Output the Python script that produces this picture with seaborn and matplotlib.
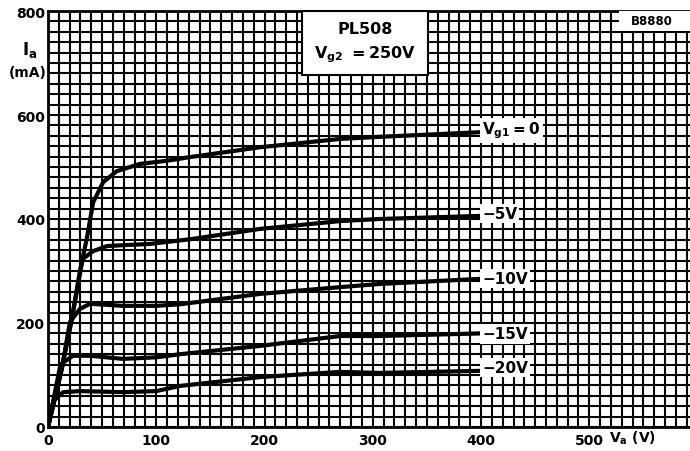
import numpy as np
import pandas as pd
import seaborn as sns
import matplotlib.pyplot as plt
from matplotlib.patches import Rectangle
from matplotlib.ticker import MultipleLocator

# Kennlinien PL508, Werte (Va in V, Ia in mA)
va_0 = [0, 12.6, 22, 29.5, 35.7, 41.7, 51, 63.5, 85, 110, 131, 196, 270, 306, 400]
ia_0 = [0, 111, 208, 300, 361, 432, 471, 492, 506, 512, 519, 538, 554, 558, 567]

va_5 = [0, 12.6, 22, 32, 41.5, 54.5, 73, 94, 131, 196, 270, 306, 400]
ia_5 = [0, 111, 208, 323, 338, 348, 350, 352, 361, 381, 396, 400, 406]

va_10 = [0, 12.6, 20.3, 29.5, 38.8, 69, 100, 122, 196, 270, 306, 400]
ia_10 = [0, 111, 202, 227, 237, 233, 233, 236, 256, 269, 275, 285]

va_15 = [0, 11.5, 23, 38.8, 69, 100, 122, 196, 270, 306, 400]
ia_15 = [0, 120, 137, 137, 131, 134, 140, 156, 175, 175, 180]

va_20 = [0, 5, 14, 29.5, 69, 100, 122, 196, 270, 306, 400]
ia_20 = [0, 50, 67, 69, 67, 69, 79, 96, 106, 104, 108]

kurven = ['0', '-5', '-10', '-15', '-20']
beschriftung = [r'$\mathbf{V_{g1}=0}$', '−5V', '−10V', '−15V', '−20V']
label_y = [571, 410, 285, 179, 115]

x_ticks = [0, 100, 200, 300, 400, 500]
y_ticks = [0, 200, 400, 600, 800]

# DataFrame fuer seaborn
df = pd.concat([
    pd.DataFrame({'Va': va_0, 'Ia': ia_0, 'Vg1': '0'}),
    pd.DataFrame({'Va': va_5, 'Ia': ia_5, 'Vg1': '-5'}),
    pd.DataFrame({'Va': va_10, 'Ia': ia_10, 'Vg1': '-10'}),
    pd.DataFrame({'Va': va_15, 'Ia': ia_15, 'Vg1': '-15'}),
    pd.DataFrame({'Va': va_20, 'Ia': ia_20, 'Vg1': '-20'}),
])

sns.set_style('white')
plt.rcParams['font.family'] = ['DejaVu Sans']
plt.rcParams['font.weight'] = 'bold'
plt.rcParams['text.color'] = 'black'
plt.rcParams['xtick.color'] = 'black'
plt.rcParams['ytick.color'] = 'black'

fig = plt.figure(figsize=(6.9, 4.52), dpi=100)
ax = fig.add_axes([48 / 690, 24 / 452, 642 / 690, 416 / 452])

sns.lineplot(data=df, x='Va', y='Ia', hue='Vg1', hue_order=kurven,
             palette=['black'] * 5, sort=False, estimator=None,
             linewidth=3.0, legend=False, ax=ax, zorder=5)

ax.set_xlim(0, 593)
ax.set_ylim(0, 800)
ax.set_xticks(x_ticks)
ax.set_yticks(y_ticks)
ax.xaxis.set_minor_locator(MultipleLocator(10))
ax.yaxis.set_minor_locator(MultipleLocator(20))
ax.grid(which='both', color='black', linewidth=1.5)
ax.set_axisbelow(True)
ax.tick_params(which='both', length=0)
ax.tick_params(axis='x', pad=4, labelsize=10)
ax.tick_params(axis='y', pad=2, labelsize=10)
for lab in ax.get_xticklabels() + ax.get_yticklabels():
    lab.set_fontweight('bold')
ax.set_xlabel('')
ax.set_ylabel('')
for s in ['left', 'bottom', 'top']:
    ax.spines[s].set_color('black')
    ax.spines[s].set_linewidth(2)
ax.spines['right'].set_visible(False)

# Beschriftung der Kurven
for txt, y in zip(beschriftung, label_y):
    ax.text(401, y, txt, fontsize=11, fontweight='bold', va='center', ha='left',
            zorder=6, bbox=dict(facecolor='white', edgecolor='none', pad=1.5))

# Kasten PL508
ax.add_patch(Rectangle((235, 677), 116, 123, facecolor='white', edgecolor='black',
                       linewidth=1.5, zorder=6, clip_on=False))
ax.text(293, 767, 'PL508', fontsize=11.5, fontweight='bold', ha='center', va='center', zorder=7)
ax.text(293, 718, r'$\mathbf{V_{g2}}$ $\mathbf{=250V}$', fontsize=11.5, ha='center', va='center', zorder=7)

# Kasten B8880
ax.add_patch(Rectangle((527, 762), 66, 38, facecolor='white', edgecolor='none', zorder=6))
ax.text(558, 781, 'B8880', fontsize=8.5, fontweight='bold', ha='center', va='center', zorder=7)

# Achsenbeschriftungen
fig.text(30 / 690, 1 - 50 / 452, r'$\mathbf{I_a}$', fontsize=12, ha='center', va='center')
fig.text(28 / 690, 1 - 73 / 452, '(mA)', fontsize=10, fontweight='bold', ha='center', va='center')
fig.text(632 / 690, 1 - 438 / 452, r'$\mathbf{V_a}$' + ' (V)', fontsize=10, fontweight='bold',
         ha='center', va='center')

plt.savefig('out.png', dpi=100)
